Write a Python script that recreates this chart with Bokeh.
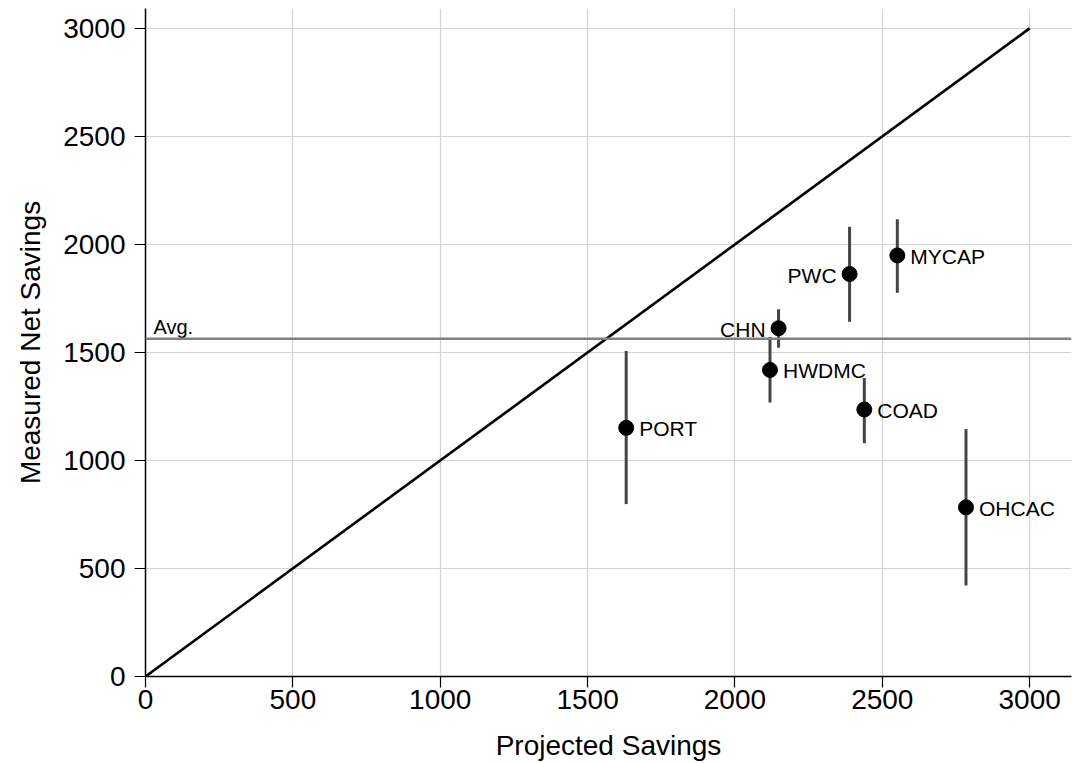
from bokeh.plotting import figure
from bokeh.models import Range1d, FixedTicker, ColumnDataSource, Span
from bokeh.core.properties import value
from bokeh.embed import file_html
from bokeh.resources import INLINE

# ---- data ----
names = ["PORT", "HWDMC", "CHN", "PWC", "MYCAP", "COAD", "OHCAC"]
projected = [1631, 2119, 2148, 2389, 2551, 2439, 2784]
measured = [1151, 1419, 1612, 1863, 1949, 1236, 783]
upper = [1507, 1572, 1700, 2082, 2117, 1382, 1145]
lower = [798, 1268, 1522, 1642, 1776, 1080, 421]
label_side = ["right", "right", "left", "left", "right", "right", "right"]
avg_value = 1563
diag_x = [0, 3000]
diag_y = [0, 3000]
ticks = [0, 500, 1000, 1500, 2000, 2500, 3000]
x_title = "Projected Savings"
y_title = "Measured Net Savings"
avg_label = "Avg."

FONT = "Liberation Sans"

p = figure(width=1073, height=763, output_backend="svg", toolbar_location=None,
           x_range=Range1d(0, 3142), y_range=Range1d(0, 3092),
           min_border_left=145, min_border_right=2, min_border_top=8, min_border_bottom=86)
p.outline_line_color = None
p.background_fill_color = "white"

for ax in (p.xaxis, p.yaxis):
    ax.ticker = FixedTicker(ticks=ticks)
    ax.axis_line_color = "black"
    ax.axis_line_width = 1.5
    ax.major_tick_line_color = "black"
    ax.major_tick_line_width = 1.2
    ax.major_tick_out = 11
    ax.major_tick_in = 0
    ax.minor_tick_line_color = None
    ax.major_label_text_font = FONT
    ax.major_label_text_font_size = "28px"
    ax.major_label_text_color = "black"
    ax.axis_label_text_font = FONT
    ax.axis_label_text_font_size = "28px"
    ax.axis_label_text_font_style = "normal"
    ax.axis_label_text_color = "black"

p.xaxis.axis_label = x_title
p.yaxis.axis_label = y_title
p.xaxis.major_label_standoff = 2
p.xaxis.axis_label_standoff = 18
p.yaxis.major_label_standoff = 9
p.yaxis.axis_label_standoff = 14

for g in (p.xgrid, p.ygrid):
    g.ticker = FixedTicker(ticks=ticks)
    g.grid_line_color = "#d4d4d4"
    g.grid_line_width = 1.2

# diagonal
p.line(diag_x, diag_y, line_color="black", line_width=2.6)

# average line
p.add_layout(Span(location=avg_value, dimension="width", line_color="#808080", line_width=2.5))
p.text(x=[27], y=[avg_value], text=[avg_label], text_font=value(FONT), text_font_size="20px",
       text_color="black", text_baseline="alphabetic", text_align="left", y_offset=-12)

# error bars
p.segment(x0=projected, y0=lower, x1=projected, y1=upper, line_color="#444444", line_width=3)

# points
p.scatter(projected, measured, size=15, fill_color="black", line_color="black")

# labels
right_src = ColumnDataSource(dict(
    x=[x for x, s in zip(projected, label_side) if s == "right"],
    y=[y for y, s in zip(measured, label_side) if s == "right"],
    t=[n for n, s in zip(names, label_side) if s == "right"]))
left_src = ColumnDataSource(dict(
    x=[x for x, s in zip(projected, label_side) if s == "left"],
    y=[y for y, s in zip(measured, label_side) if s == "left"],
    t=[n for n, s in zip(names, label_side) if s == "left"]))
p.text(x="x", y="y", text="t", source=right_src, text_font=value(FONT), text_font_size="21px",
       text_color="black", text_align="left", text_baseline="middle", x_offset=13, y_offset=1)
p.text(x="x", y="y", text="t", source=left_src, text_font=value(FONT), text_font_size="21px",
       text_color="black", text_align="right", text_baseline="middle", x_offset=-13, y_offset=1)

open("out.html", "w").write(file_html(p, INLINE))
